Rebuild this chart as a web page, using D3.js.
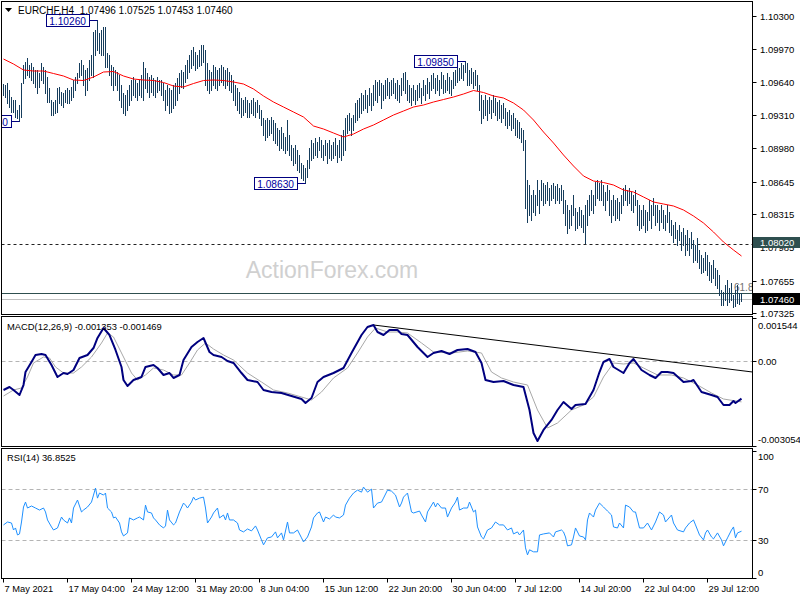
<!DOCTYPE html>
<html><head><meta charset="utf-8">
<script src="https://cdn.jsdelivr.net/npm/d3@7"></script>
<style>
body{margin:0;background:#fff}
svg{display:block;font-family:"Liberation Sans",Arial,sans-serif}
</style>
</head><body>
<svg id="chart" width="800" height="600"></svg>
<script>
// ---------------- DATA ----------------
const chartTitle = "EURCHF,H4  1.07496 1.07525 1.07453 1.07460";
const macdTitle = "MACD(12,26,9) -0.001353 -0.001469";
const rsiTitle = "RSI(14) 36.8525";
const watermark = "ActionForex.com";

const highs = [
1.0962,1.0961,1.0963,1.0956,1.0949,1.0946,1.0946,1.0936,1.0941,1.0963,
1.0981,1.0984,1.0988,1.0981,1.0983,1.0979,1.0976,1.0976,1.0973,1.0983,
1.0979,1.0976,1.0969,1.0958,1.0946,1.0944,1.0946,1.0958,1.0959,1.0954,
1.0953,1.0956,1.0958,1.0956,1.0959,1.0966,1.0969,1.0973,1.0983,1.0986,
1.0981,1.0976,1.0978,1.0986,1.0991,1.1014,1.1016,1.1026,1.1013,1.1016,
1.1019,1.1019,1.0993,1.0991,1.0981,1.0979,1.0976,1.0974,1.0971,1.0961,
1.0953,1.0951,1.0956,1.0961,1.0966,1.0969,1.0966,1.0963,1.0966,1.0971,
1.0984,1.0978,1.0973,1.0969,1.0971,1.0968,1.0966,1.0969,1.0966,1.0966,
1.0963,1.0956,1.0961,1.0958,1.0956,1.0961,1.0963,1.0968,1.0973,1.0976,
1.0974,1.0981,1.0986,1.0991,1.0996,1.0999,1.0994,1.0991,1.0996,1.1001,
1.1001,1.0996,1.0983,1.0976,1.0974,1.0981,1.0979,1.0976,1.0978,1.0981,
1.0979,1.0976,1.0978,1.0974,1.0971,1.0966,1.0961,1.0958,1.0954,1.0948,
1.0946,1.0949,1.0946,1.0943,1.0946,1.0948,1.0944,1.0946,1.0941,1.0936,
1.0928,1.0926,1.0928,1.0926,1.0929,1.0926,1.0923,1.0918,1.0916,1.0919,
1.0913,1.0909,1.0926,1.0911,1.0901,1.0898,1.0901,1.0896,1.0891,1.0883,
1.0881,1.0878,1.0886,1.0898,1.0906,1.0903,1.0908,1.0904,1.0909,1.0906,
1.0901,1.0906,1.0903,1.0906,1.0901,1.0904,1.0908,1.0901,1.0906,1.0911,
1.0916,1.0928,1.0931,1.0933,1.0928,1.0931,1.0943,1.0946,1.0948,1.0953,
1.0951,1.0956,1.0951,1.0958,1.0953,1.0961,1.0966,1.0964,1.0966,1.0963,
1.0961,1.0966,1.0968,1.0964,1.0966,1.0968,1.0963,1.0966,1.0961,1.0968,
1.0973,1.0974,1.0966,1.0961,1.0958,1.0961,1.0956,1.0961,1.0963,1.0958,
1.0966,1.0961,1.0968,1.0964,1.0971,1.0973,1.0968,1.0971,1.0966,1.0974,
1.0971,1.0966,1.0973,1.0969,1.0966,1.0974,1.0976,1.0981,1.0978,1.0983,
1.0981,1.0985,1.0983,1.0976,1.0978,1.0974,1.0976,1.0971,1.0961,1.0951,
1.0946,1.0951,1.0946,1.0949,1.0946,1.0951,1.0948,1.0944,1.0946,1.0941,
1.0943,1.0938,1.0934,1.0936,1.0931,1.0933,1.0928,1.0926,1.0924,1.0918,
1.0916,1.0906,1.0866,1.0861,1.0851,1.0856,1.0851,1.0866,1.0856,1.0866,
1.0863,1.0861,1.0864,1.0858,1.0861,1.0863,1.0860,1.0862,1.0858,1.0861,
1.0856,1.0846,1.0841,1.0836,1.0841,1.0851,1.0838,1.0834,1.0839,1.0836,
1.0831,1.0841,1.0846,1.0851,1.0856,1.0851,1.0864,1.0866,1.0863,1.0866,
1.0861,1.0854,1.0861,1.0856,1.0846,1.0851,1.0846,1.0848,1.0844,1.0851,
1.0858,1.0861,1.0856,1.0858,1.0854,1.0851,1.0856,1.0846,1.0841,1.0836,
1.0841,1.0836,1.0834,1.0846,1.0841,1.0848,1.0841,1.0841,1.0836,1.0841,
1.0836,1.0831,1.0841,1.0834,1.0826,1.0821,1.0824,1.0816,1.0821,1.0814,
1.0818,1.0811,1.0816,1.0808,1.0814,1.0806,1.0801,1.0808,1.0796,1.0791,
1.0788,1.0794,1.0791,1.0784,1.0781,1.0786,1.0778,1.0776,1.0771,1.0756,
1.0754,1.0761,1.0766,1.0758,1.0763,1.0751,1.0756,1.0761,1.0753,1.07525];

const lows = [
1.0951,1.0949,1.0943,1.0939,1.0934,1.0934,1.0929,1.0928,1.0925,1.0929,
1.0963,1.0968,1.0971,1.0969,1.0966,1.0963,1.0959,1.0953,1.0959,1.0966,
1.0963,1.0953,1.0944,1.0944,1.0931,1.0931,1.0933,1.0934,1.0943,1.0941,
1.0939,1.0944,1.0943,1.0943,1.0946,1.0949,1.0956,1.0963,1.0969,1.0971,
1.0961,1.0951,1.0956,1.0966,1.0971,1.0969,1.0991,1.0996,1.0993,1.0991,
1.0991,1.0979,1.0979,1.0971,1.0961,1.0956,1.0961,1.0956,1.0946,1.0939,
1.0933,1.0931,1.0936,1.0941,1.0946,1.0951,1.0949,1.0946,1.0951,1.0949,
1.0946,1.0958,1.0954,1.0949,1.0954,1.0951,1.0949,1.0954,1.0956,1.0951,
1.0946,1.0936,1.0941,1.0933,1.0934,1.0938,1.0941,1.0946,1.0953,1.0959,
1.0958,1.0964,1.0968,1.0974,1.0978,1.0981,1.0976,1.0978,1.0980,1.0981,
1.0984,1.0961,1.0956,1.0953,1.0956,1.0961,1.0958,1.0956,1.0961,1.0964,
1.0961,1.0958,1.0961,1.0956,1.0954,1.0946,1.0941,1.0936,1.0933,1.0929,
1.0931,1.0934,1.0929,1.0929,1.0933,1.0931,1.0929,1.0934,1.0928,1.0921,
1.0911,1.0906,1.0909,1.0911,1.0913,1.0906,1.0903,1.0901,1.0896,1.0898,
1.0896,1.0893,1.0896,1.0891,1.0886,1.0881,1.0883,1.0876,1.0874,1.0868,
1.0866,1.0863,1.0869,1.0878,1.0886,1.0888,1.0891,1.0889,1.0896,1.0889,
1.0886,1.0891,1.0883,1.0888,1.0886,1.0888,1.0891,1.0884,1.0889,1.0886,
1.0891,1.0896,1.0913,1.0916,1.0911,1.0916,1.0924,1.0926,1.0929,1.0933,
1.0936,1.0938,1.0934,1.0941,1.0936,1.0941,1.0946,1.0944,1.0951,1.0938,
1.0946,1.0948,1.0951,1.0948,1.0951,1.0953,1.0948,1.0946,1.0944,1.0951,
1.0956,1.0953,1.0946,1.0944,1.0941,1.0946,1.0942,1.0946,1.0949,1.0943,
1.0951,1.0946,1.0953,1.0948,1.0956,1.0958,1.0953,1.0956,1.0951,1.0958,
1.0953,1.0954,1.0956,1.0953,1.0951,1.0958,1.0961,1.0964,1.0966,1.0968,
1.0966,1.0974,1.0961,1.0961,1.0963,1.0958,1.0961,1.0956,1.0936,1.0923,
1.0928,1.0931,1.0926,1.0933,1.0928,1.0934,1.0931,1.0926,1.0928,1.0924,
1.0928,1.0921,1.0918,1.0921,1.0916,1.0918,1.0911,1.0909,1.0908,1.0904,
1.0896,1.0838,1.0824,1.0831,1.0826,1.0834,1.0831,1.0841,1.0833,1.0846,
1.0841,1.0843,1.0846,1.0841,1.0846,1.0848,1.0843,1.0846,1.0843,1.0846,
1.0833,1.0821,1.0813,1.0818,1.0821,1.0831,1.0816,1.0818,1.0821,1.0819,
1.0814,1.0803,1.0821,1.0831,1.0836,1.0833,1.0841,1.0848,1.0846,1.0846,
1.0841,1.0836,1.0846,1.0831,1.0824,1.0831,1.0826,1.0828,1.0826,1.0833,
1.0841,1.0846,1.0841,1.0843,1.0836,1.0834,1.0841,1.0821,1.0816,1.0818,
1.0821,1.0814,1.0816,1.0826,1.0818,1.0831,1.0821,1.0824,1.0816,1.0824,
1.0818,1.0816,1.0824,1.0814,1.0811,1.0804,1.0808,1.0801,1.0806,1.0796,
1.0801,1.0791,1.0796,1.0791,1.0798,1.0784,1.0786,1.0784,1.0778,1.0773,
1.0774,1.0776,1.0771,1.0766,1.0764,1.0768,1.0761,1.0758,1.0751,1.0741,
1.0741,1.0746,1.0741,1.0744,1.0746,1.0739,1.0740,1.0743,1.0742,1.07453];

// Moving average (red), sampled every 5 bars, last point on last bar
const maValues = [
1.0987,1.0982,1.0976,1.0975,1.0975,1.09725,1.0970,1.0966,1.09655,1.0969,
1.0974,1.09745,1.0970,1.0967,1.0966,1.09655,1.09635,1.0960,1.0959,1.09625,
1.09655,1.0966,1.09655,1.0964,1.0962,1.0957,1.0950,1.0944,1.0939,1.0934,
1.0929,1.0920,1.0917,1.0913,1.0909,1.0912,1.0917,1.0921,1.0926,1.0931,
1.0935,1.0939,1.0941,1.0944,1.09465,1.0949,1.0952,1.09555,1.09535,1.0950,
1.0948,1.0943,1.0936,1.0926,1.0914,1.0903,1.0891,1.0880,1.0870,1.0865,
1.08635,1.0861,1.0856,1.0854,1.0849,1.0844,1.0842,1.0840,1.0836,1.0830,
1.0823,1.0814,1.0804,1.0796,1.0790];

// MACD main line (bar index, value)
const macdBars = [0,3,5,8,10,11,14,16,19,21,24,27,30,32,35,38,42,45,47,50,53,56,59,60,62,65,69,71,75,77,80,83,85,88,90,94,97,100,103,105,109,112,115,119,122,127,130,134,139,144,149,151,154,157,160,165,170,174,179,182,185,187,190,193,197,199,202,207,212,215,219,223,227,232,236,239,241,245,250,255,260,263,265,267,270,274,277,280,284,286,291,295,298,300,303,305,310,313,315,319,323,326,329,332,335,340,344,345,349,354,357,360,363,365,366,369];
const macdValues = [-0.001042,-0.000935,-0.001042,-0.001222,-0.000863,-0.000396,-0.000036,0.000215,0.000251,0.000215,-0.000144,-0.000575,-0.000432,-0.000468,-0.000324,0.000107,0.000215,0.000466,0.000826,0.001185,0.000933,0.000395,-0.000216,-0.000683,-0.000899,-0.000683,-0.000575,-0.000216,-0.000144,-0.000252,-0.000503,-0.000432,-0.000611,-0.000503,0.000035,0.000502,0.000682,0.000826,0.000323,0.000215,0.000143,0.0,-0.000072,-0.000432,-0.000683,-0.000755,-0.001042,-0.001114,-0.00115,-0.001258,-0.001366,-0.001509,-0.00133,-0.000755,-0.000575,-0.000432,-0.000252,0.000287,0.000933,0.001221,0.001293,0.001041,0.000933,0.001113,0.001113,0.000969,0.000933,0.000502,0.000143,0.000287,0.000359,0.000251,0.000395,0.00043,0.000323,-0.000072,-0.000683,-0.000755,-0.000719,-0.000863,-0.000935,-0.001761,-0.002587,-0.002874,-0.002479,-0.00212,-0.001761,-0.001473,-0.001725,-0.001581,-0.001545,-0.001042,-0.000396,-0.000036,0.000071,-0.000216,-0.000432,-0.000072,0.000071,-0.000324,-0.000503,-0.000611,-0.000396,-0.000396,-0.000432,-0.000755,-0.000719,-0.000683,-0.001114,-0.001222,-0.001294,-0.001581,-0.001581,-0.001437,-0.001509,-0.001353];

// MACD signal line (bar index, value)
const signalBars = [0,5,9,12,15,20,23,26,30,35,39,44,49,52,55,59,64,67,71,75,80,85,89,93,97,101,105,110,115,122,129,135,142,149,154,159,165,172,177,182,186,192,197,202,209,215,224,232,239,244,249,255,262,267,272,277,284,290,295,300,305,310,315,320,327,334,340,347,354,360,369];
const signalValues = [-0.001258,-0.001042,-0.00097,-0.000575,-0.000072,0.000143,0.000107,-0.000216,-0.000432,-0.000432,-0.000216,0.000143,0.000646,0.001005,0.000862,0.000287,-0.000432,-0.000683,-0.000503,-0.000252,-0.000324,-0.000503,-0.000503,-0.000072,0.000395,0.000646,0.00043,0.000215,0.000035,-0.000432,-0.000755,-0.001042,-0.00115,-0.001294,-0.001401,-0.001114,-0.000611,-0.000252,0.000287,0.000862,0.001185,0.001041,0.001041,0.001005,0.000646,0.000323,0.000287,0.000359,0.000287,-0.000396,-0.000611,-0.000755,-0.000863,-0.001761,-0.002407,-0.002228,-0.001761,-0.001581,-0.001294,-0.000575,-0.000072,-0.000108,-0.000072,-0.000252,-0.000503,-0.000503,-0.000611,-0.000863,-0.00115,-0.001366,-0.001469];

// MACD trend line drawn on the indicator (bar index, value)
const trendBars = [185, 374.5];
const trendValues = [0.001293, -0.000396];

// RSI(14) (bar index, value)
const rsiBars = [0,2,4,5,6,7,8,9,10,11,12,14,16,18,20,21,22,24,25,27,29,30,32,33,34,35,37,39,40,42,44,45,46,47,48,50,51,52,54,55,56,58,59,60,62,63,65,67,68,70,71,72,74,75,76,78,80,81,82,83,85,86,88,90,91,92,94,95,96,98,100,101,102,104,105,107,108,110,111,112,113,115,117,118,120,122,124,126,127,129,130,132,134,136,137,139,140,142,143,145,147,149,150,152,154,155,157,158,160,161,163,165,166,168,170,171,173,175,177,179,180,182,184,185,187,189,190,192,194,196,198,199,200,202,204,205,208,209,211,212,215,216,217,219,221,222,224,226,227,228,230,232,233,235,236,237,239,240,242,244,246,248,250,252,254,255,257,258,260,261,262,263,265,267,268,270,273,275,276,279,280,281,282,284,285,286,288,290,291,292,293,295,296,298,300,302,304,305,307,308,310,311,313,315,316,318,320,322,324,326,328,330,331,334,335,337,340,341,343,345,346,348,350,351,352,354,355,357,359,360,362,364,365,366,367,369];
const rsiValues = [41.8,44.1,43.3,37.8,39.4,33.9,34.7,44.1,55.9,59.8,55.1,56.7,55.1,53.5,55.1,52.0,45.7,40.2,37.8,39.4,48.0,45.7,43.3,47.3,43.3,55.1,61.4,52.0,53.5,55.9,59.8,65.3,70.8,62.9,66.9,65.3,66.9,55.1,52.0,47.3,48.0,43.3,36.3,33.1,35.5,47.3,45.7,47.3,48.0,45.7,57.4,52.0,51.2,47.3,45.7,41.8,39.4,41.0,53.5,45.7,41.8,43.3,52.0,59.0,57.4,55.1,59.8,63.7,61.4,62.9,63.7,55.1,43.3,48.0,51.2,55.1,47.3,49.6,45.7,51.2,45.7,45.7,43.3,37.8,36.3,38.6,37.1,41.0,37.8,30.0,26.1,31.6,32.3,36.3,31.6,35.5,30.0,44.1,35.5,35.5,37.8,31.6,28.4,32.3,40.2,47.3,51.2,52.0,44.1,48.0,46.5,49.6,48.0,47.3,49.6,57.4,62.9,66.9,69.2,67.6,71.6,67.6,70.0,55.1,59.0,59.8,62.9,69.2,68.4,65.3,55.9,59.0,63.7,66.9,52.0,51.2,52.7,49.6,44.1,52.0,59.8,55.9,59.0,55.1,55.1,48.0,55.1,59.8,63.7,53.5,55.1,55.1,59.8,52.0,53.5,40.2,32.3,30.8,37.8,39.4,44.1,41.8,41.8,37.8,39.4,34.7,36.3,33.9,37.8,23.7,18.2,22.2,20.6,20.6,33.9,34.7,35.5,32.3,36.3,37.8,36.3,32.3,25.3,26.1,32.3,39.4,33.1,32.3,30.0,45.7,51.2,48.0,53.5,59.0,55.9,52.7,49.6,40.2,39.4,43.3,39.4,57.4,55.9,52.0,52.0,39.4,39.4,43.3,37.8,44.1,52.0,49.6,44.1,49.6,43.3,37.8,36.3,39.4,43.3,45.7,41.8,33.9,30.0,35.5,37.8,32.3,30.8,35.5,30.0,25.3,31.6,37.8,40.2,31.6,35.5,36.85];

// Axis labels
const priceTicks = [1.10300,1.09970,1.09640,1.09310,1.08980,1.08645,1.08315,1.07985,1.07655,1.07325];
const macdTicks = [0.001544, 0.0, -0.003054];
const macdTickLabels = ["0.001544","0.00","-0.003054"];
const rsiTicks = [100, 70, 30, 0];
const rsiLevels = [70, 30];
const dateBars = [0,32,64,96,128,160,192,224,256,288,320,352];
const dateLabels = ["7 May 2021","17 May 04:00","24 May 12:00","31 May 20:00","8 Jun 04:00","15 Jun 12:00","22 Jun 20:00","30 Jun 04:00","7 Jul 12:00","14 Jul 20:00","22 Jul 04:00","29 Jul 12:00"];

// Annotations on the price chart
const markerBars = [8, 47, 151, 231];
const markerPrices = [1.0925, 1.1026, 1.0863, 1.0985];
const markerTexts = ["1.09250", "1.10260", "1.08630", "1.09850"];
const levelDashed = 1.08020;     // horizontal dashed level
const fibLevel = 1.07527;        // 61.8 retracement
const fibText = "61.8";
const bidPrice = 1.07460;

// ---------------- DRAWING ----------------
const svg = d3.select("#chart");
const W = 800, H = 600;
const L = 1.5, R = 752.5;
const main = {top: 1.5, bottom: 314.5};
const macdP = {top: 316.5, bottom: 446.5};
const rsiP = {top: 448.5, bottom: 578.5};

const x = d3.scaleLinear().domain([0, 369]).range([3.5, 741.5]);
const y = d3.scaleLinear().domain([1.103, 1.073]).range([16, 316]);
const ym = d3.scaleLinear().domain([0.001544, -0.003054]).range([318, 446]);
const yr = d3.scaleLinear().domain([100, 0]).range([451, 578]);

svg.append("rect").attr("width", W).attr("height", H).attr("fill", "#fff");

const defs = svg.append("defs");
function clip(id, p) {
  defs.append("clipPath").attr("id", id).append("rect")
    .attr("x", L).attr("y", p.top).attr("width", R - L).attr("height", p.bottom - p.top);
}
clip("cMain", main); clip("cMacd", macdP); clip("cRsi", rsiP);

// ---------- main panel ----------
const gm = svg.append("g").attr("clip-path", "url(#cMain)");

// watermark
gm.append("text").attr("x", 332).attr("y", 278).attr("text-anchor", "middle")
  .attr("font-size", 23).attr("fill", "#d0d0d0").text(watermark);

// dashed level
gm.append("line").attr("x1", L).attr("x2", R)
  .attr("y1", Math.round(y(levelDashed)) + 0.5).attr("y2", Math.round(y(levelDashed)) + 0.5)
  .attr("stroke", "#222").attr("stroke-dasharray", "3,3");
// bid line
gm.append("line").attr("x1", L).attr("x2", R)
  .attr("y1", Math.round(y(bidPrice)) - 0.5).attr("y2", Math.round(y(bidPrice)) - 0.5)
  .attr("stroke", "#c0c0c0");
// fib level
gm.append("line").attr("x1", L).attr("x2", R)
  .attr("y1", Math.round(y(fibLevel)) + 0.5).attr("y2", Math.round(y(fibLevel)) + 0.5)
  .attr("stroke", "#2f4f4f");
gm.append("text").attr("x", 734).attr("y", Math.round(y(fibLevel)) - 2)
  .attr("font-size", 10).attr("fill", "#707070").text(fibText);

// bars
gm.append("g").selectAll("line").data(d3.range(highs.length)).join("line")
  .attr("x1", d => x(d)).attr("x2", d => x(d))
  .attr("y1", d => Math.round(y(highs[d])))
  .attr("y2", d => Math.round(y(lows[d])) + 1)
  .attr("stroke", "#163d5c").attr("stroke-width", 1);

// moving average
const maBars = d3.range(0, 366, 5).concat([369]);
gm.append("path").datum(maValues)
  .attr("d", d3.line().x((d, i) => x(maBars[i])).y(d => y(d)))
  .attr("fill", "none").attr("stroke", "#ff0000").attr("stroke-width", 1);

// markers
markerBars.forEach((b, k) => {
  const py = Math.round(y(markerPrices[k])) + 0.5;
  const bx = x(b);
  const boxR = Math.round(bx - 9) + 0.5, boxW = 43, boxH = 11;
  gm.append("line").attr("x1", boxR).attr("x2", bx).attr("y1", py).attr("y2", py)
    .attr("stroke", "#000080");
  gm.append("rect").attr("x", boxR - boxW).attr("y", py - 6)
    .attr("width", boxW).attr("height", boxH + 1)
    .attr("fill", "#fff").attr("stroke", "#000080");
  gm.append("text").attr("x", boxR - 3.5).attr("y", py + 4)
    .attr("text-anchor", "end")
    .attr("font-size", 10.2).attr("fill", "#0000a0").text(markerTexts[k]);
});

// title
svg.append("path").attr("d", "M5,8 L12,8 L8.5,12 Z").attr("fill", "#000");
svg.append("text").attr("x", 18).attr("y", 14).attr("font-size", 10)
  .attr("fill", "#000").attr("xml:space", "preserve").text(chartTitle);

// ---------- MACD panel ----------
const gd = svg.append("g").attr("clip-path", "url(#cMacd)");
gd.append("line").attr("x1", L).attr("x2", R)
  .attr("y1", Math.round(ym(0)) + 0.5).attr("y2", Math.round(ym(0)) + 0.5)
  .attr("stroke", "#b4b4b4").attr("stroke-dasharray", "4,3");
gd.append("path").datum(signalValues)
  .attr("d", d3.line().x((d, i) => x(signalBars[i])).y(d => ym(d)))
  .attr("fill", "none").attr("stroke", "#a8a8a8").attr("stroke-width", 1);
gd.append("path").datum(trendValues)
  .attr("d", d3.line().x((d, i) => x(trendBars[i])).y(d => ym(d)))
  .attr("fill", "none").attr("stroke", "#000").attr("stroke-width", 1);
gd.append("path").datum(macdValues)
  .attr("d", d3.line().x((d, i) => x(macdBars[i])).y(d => ym(d)))
  .attr("fill", "none").attr("stroke", "#00007f").attr("stroke-width", 2)
  .attr("stroke-linejoin", "round");
svg.append("text").attr("x", 7).attr("y", 330).attr("font-size", 9.4)
  .attr("fill", "#000").text(macdTitle);

// ---------- RSI panel ----------
const gr = svg.append("g").attr("clip-path", "url(#cRsi)");
rsiLevels.forEach(v => {
  gr.append("line").attr("x1", L).attr("x2", R)
    .attr("y1", Math.round(yr(v)) + 0.5).attr("y2", Math.round(yr(v)) + 0.5)
    .attr("stroke", "#b4b4b4").attr("stroke-dasharray", "4,3");
});
gr.append("path").datum(rsiValues)
  .attr("d", d3.line().x((d, i) => x(rsiBars[i])).y(d => yr(d)))
  .attr("fill", "none").attr("stroke", "#1e90ff").attr("stroke-width", 1);
svg.append("text").attr("x", 7).attr("y", 461).attr("font-size", 9.4)
  .attr("fill", "#000").text(rsiTitle);

// ---------- frames ----------
[main, macdP, rsiP].forEach(p => {
  svg.append("rect").attr("x", L).attr("y", p.top).attr("width", R - L)
    .attr("height", p.bottom - p.top).attr("fill", "none").attr("stroke", "#000");
});

// ---------- right axes ----------
const ax = svg.append("g").attr("font-size", 9.5).attr("fill", "#000");
priceTicks.forEach(v => {
  const yy = Math.round(y(v)) + 0.5;
  ax.append("line").attr("x1", R).attr("x2", R + 4).attr("y1", yy).attr("y2", yy).attr("stroke", "#000");
  ax.append("text").attr("x", 760).attr("y", yy + 3.5).text(v.toFixed(5));
});
// highlighted level label
{
  const yy = Math.round(y(levelDashed));
  ax.append("rect").attr("x", R + 0.5).attr("y", yy - 7).attr("width", 47).attr("height", 11).attr("fill", "#2f4f4f");
  ax.append("text").attr("x", 760).attr("y", yy + 2).attr("fill", "#fff").text(levelDashed.toFixed(5));
}
// bid label
{
  const yy = Math.round(y(bidPrice));
  ax.append("rect").attr("x", R + 0.5).attr("y", yy - 7).attr("width", 47).attr("height", 12).attr("fill", "#000");
  ax.append("text").attr("x", 760).attr("y", yy + 3).attr("fill", "#fff").text(bidPrice.toFixed(5));
}
// MACD axis
const macdLabelY = [325, 361, 439];
macdTicks.forEach((v, k) => {
  const yy = Math.round(ym(v)) + 0.5;
  ax.append("line").attr("x1", R).attr("x2", R + 4).attr("y1", yy).attr("y2", yy).attr("stroke", "#000");
  ax.append("text").attr("x", 758).attr("y", macdLabelY[k] + 3.5).text(macdTickLabels[k]);
});
// RSI axis
rsiTicks.forEach(v => {
  const yy = Math.round(yr(v)) + 0.5;
  const ly = Math.min(Math.max(yy, 456), 572);
  ax.append("line").attr("x1", R).attr("x2", R + 4).attr("y1", yy).attr("y2", yy).attr("stroke", "#000");
  ax.append("text").attr("x", 758).attr("y", ly + 3.5).text(v);
});

// ---------- time axis ----------
dateBars.forEach((b, k) => {
  const xx = Math.round(x(b)) - 0.5;
  ax.append("line").attr("x1", xx).attr("x2", xx).attr("y1", rsiP.bottom).attr("y2", rsiP.bottom + 4).attr("stroke", "#000");
  ax.append("text").attr("x", xx + 1).attr("y", 592).attr("font-size", 9.3).text(dateLabels[k]);
});
</script>
</body></html>
